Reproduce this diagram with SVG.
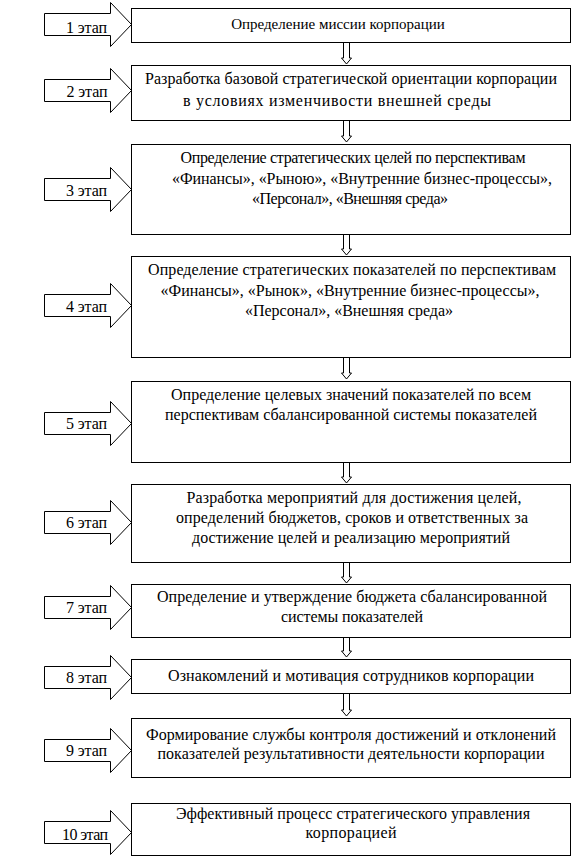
<svg xmlns="http://www.w3.org/2000/svg" width="573" height="859" viewBox="0 0 573 859" font-family="Liberation Serif, Times New Roman, serif" font-size="16">
<style>
.box{fill:#fff;stroke:#000;stroke-width:1}
.arr{fill:#fff;stroke:#000;stroke-width:1}
text{fill:#000;text-anchor:middle}
</style>
<defs>
<path id="la" d="M0,-11 H66 V-22 L87,0 L66,22 V11 H0 Z"/>
</defs>
<rect width="573" height="859" fill="#fff"/>
<g id="connectors">
<path class="arr" d="M343.5,42 V58 H341.5 L346.5,64 L351.5,58 H349.5 V42 Z"/>
<path class="arr" d="M343.5,120 V136 H341.5 L346.5,142 L351.5,136 H349.5 V120 Z"/>
<path class="arr" d="M343.5,234 V249 H341.5 L346.5,255 L351.5,249 H349.5 V234 Z"/>
<path class="arr" d="M343.5,357 V373 H341.5 L346.5,379 L351.5,373 H349.5 V357 Z"/>
<path class="arr" d="M343.5,462 V477 H341.5 L346.5,483 L351.5,477 H349.5 V462 Z"/>
<path class="arr" d="M343.5,562 V577 H341.5 L346.5,583 L351.5,577 H349.5 V562 Z"/>
<path class="arr" d="M343.5,637 V651 H341.5 L346.5,657 L351.5,651 H349.5 V637 Z"/>
<path class="arr" d="M343.5,693 V710 H341.5 L346.5,716 L351.5,710 H349.5 V693 Z"/>
</g>
<g id="stage1"><use href="#la" class="arr" transform="translate(44.5,24.5)"/><text x="86.5" y="33" textLength="41">1 этап</text>
<rect class="box" x="131.5" y="8.5" width="439" height="34"/>
<text x="338" y="29" font-size="15">Определение миссии корпорации</text></g>
<g id="stage2"><use href="#la" class="arr" transform="translate(44.5,90.5)"/><text x="87" y="97" textLength="41">2 этап</text>
<rect class="box" x="131.5" y="65.5" width="439" height="55"/>
<text x="351" y="84" textLength="412">Разработка базовой стратегической ориентации корпорации</text>
<text x="337" y="106" textLength="308">в условиях изменчивости внешней среды</text></g>
<g id="stage3"><use href="#la" class="arr" transform="translate(44.5,189.5)"/><text x="86.5" y="196" textLength="41">3 этап</text>
<rect class="box" x="131.5" y="144.5" width="439" height="90"/>
<text x="353" y="163" textLength="345">Определение стратегических целей по перспективам</text>
<text x="362" y="184" textLength="380">«Финансы», «Рыною», «Внутренние бизнес-процессы»,</text>
<text x="350" y="204" textLength="196">«Персонал», «Внешняя среда»</text></g>
<g id="stage4"><use href="#la" class="arr" transform="translate(44.5,305.5)"/><text x="86.5" y="312" textLength="41">4 этап</text>
<rect class="box" x="131.5" y="256.5" width="439" height="101"/>
<text x="352" y="275" textLength="408">Определение стратегических показателей по перспективам</text>
<text x="350" y="296" textLength="379">«Финансы», «Рынок», «Внутренние бизнес-процессы»,</text>
<text x="349" y="316" textLength="208">«Персонал», «Внешняя среда»</text></g>
<g id="stage5"><use href="#la" class="arr" transform="translate(44.5,423.5)"/><text x="86.5" y="429" textLength="41">5 этап</text>
<rect class="box" x="131.5" y="381.5" width="439" height="81"/>
<text x="351" y="400" textLength="360">Определение целевых значений показателей по всем</text>
<text x="351" y="420" textLength="372">перспективам сбалансированной системы показателей</text></g>
<g id="stage6"><use href="#la" class="arr" transform="translate(44.5,522.5)"/><text x="86.5" y="528" textLength="41">6 этап</text>
<rect class="box" x="131.5" y="484.5" width="439" height="78"/>
<text x="354" y="503" textLength="335">Разработка мероприятий для достижения целей,</text>
<text x="352" y="523" textLength="352">определений бюджетов, сроков и ответственных за</text>
<text x="351" y="543" textLength="318">достижение целей и реализацию мероприятий</text></g>
<g id="stage7"><use href="#la" class="arr" transform="translate(44.5,607.5)"/><text x="86.5" y="613" textLength="41">7 этап</text>
<rect class="box" x="131.5" y="584.5" width="439" height="53"/>
<text x="352" y="602" textLength="390">Определение и утверждение бюджета сбалансированной</text>
<text x="352" y="622" textLength="142">системы показателей</text></g>
<g id="stage8"><use href="#la" class="arr" transform="translate(44.5,677.5)"/><text x="86.5" y="683" textLength="41">8 этап</text>
<rect class="box" x="131.5" y="659.5" width="439" height="34"/>
<text x="351" y="681" textLength="366">Ознакомлений и мотивация сотрудников корпорации</text></g>
<g id="stage9"><use href="#la" class="arr" transform="translate(44.5,750.5)"/><text x="86.5" y="756" textLength="41">9 этап</text>
<rect class="box" x="131.5" y="718.5" width="439" height="59"/>
<text x="351" y="740" textLength="410">Формирование службы контроля достижений и отклонений</text>
<text x="351" y="759" textLength="387">показателей результативности деятельности корпорации</text></g>
<g id="stage10"><use href="#la" class="arr" transform="translate(44.5,832.5)"/><text x="85" y="840" textLength="46">10 этап</text>
<rect class="box" x="131.5" y="803.5" width="439" height="52"/>
<text x="353" y="819" textLength="354">Эффективный процесс стратегического управления</text>
<text x="351" y="838" textLength="91">корпорацией</text></g>
</svg>
